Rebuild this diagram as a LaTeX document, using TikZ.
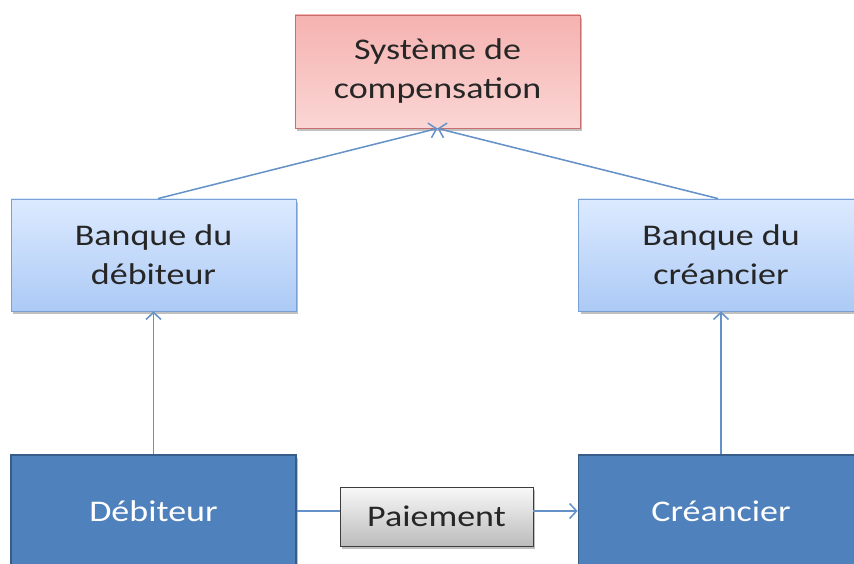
\documentclass[tikz,border=0pt]{standalone}
\usepackage{fontspec}
\setmainfont{Carlito}[FakeStretch=1.2]
\usetikzlibrary{arrows.meta,shadows,shapes.geometric}
\definecolor{pinkT}{RGB}{245,178,176}
\definecolor{pinkB}{RGB}{250,214,212}
\definecolor{pinkD}{RGB}{200,110,108}
\definecolor{lbT}{RGB}{220,234,255}
\definecolor{lbB}{RGB}{172,202,245}
\definecolor{lbD}{RGB}{120,160,210}
\definecolor{dbF}{RGB}{79,129,189}
\definecolor{dbD}{RGB}{56,93,138}
\definecolor{grT}{RGB}{248,248,248}
\definecolor{grB}{RGB}{188,188,188}
\definecolor{grD}{RGB}{60,60,60}
\definecolor{arr}{RGB}{100,145,200}
\tikzset{
  x=1pt,y=-1pt,
  basebox/.style={rectangle, align=center, inner sep=0pt,
    font=\fontsize{30}{39}\selectfont,
    drop shadow={shadow xshift=2pt,shadow yshift=-3pt,opacity=0.35,fill=black!70}},
  pinkbox/.style={basebox, draw=pinkD, line width=0.9pt, top color=pinkT, bottom color=pinkB,
    minimum width=285pt, minimum height=113pt, text=black!85},
  lightbox/.style={basebox, draw=lbD, line width=0.9pt, top color=lbT, bottom color=lbB,
    minimum width=285pt, minimum height=112pt, text=black!85},
  darkbox/.style={basebox, draw=dbD, line width=1.8pt, fill=dbF,
    minimum width=285pt, minimum height=112pt, text=white},
  graybox/.style={basebox, draw=grD, line width=0.9pt, top color=grT, bottom color=grB,
    minimum width=193pt, minimum height=59pt, text=black!85},
  conn/.style={draw=arr, line width=1.5pt},
  arrow/.style={conn, -{Straight Barb[length=7pt,width=15pt,line width=1.5pt]}}
}
\begin{document}
\begin{tikzpicture}
\useasboundingbox (0,0) rectangle (854,564);
\clip (0,0) rectangle (854,564);
\fill[white] (0,0) rectangle (854,564);
\node[pinkbox] (sys) at (437.5,71.5) {Système de\\compensation};
\node[lightbox] (bd) at (153.5,255) {Banque du\\débiteur};
\node[lightbox] (bc) at (721,255) {Banque du\\créancier};
\node[darkbox] (deb) at (153.5,511) {Débiteur};
\node[darkbox] (cre) at (721,511) {Créancier};
\node[graybox] (pai) at (436.5,516.5) {Paiement};
\draw[arrow] ([xshift=4.5pt]bd.north) -- (sys.south);
\draw[arrow] ([xshift=-3pt]bc.north) -- (sys.south);
\draw[arrow] (deb.north) -- (bd.south);
\draw[arrow] (cre.north) -- (bc.south);
\draw[conn] (deb.east) -- (deb.east -| pai.west);
\draw[arrow] (pai.east |- cre.west) -- (cre.west);
\end{tikzpicture}
\end{document}
